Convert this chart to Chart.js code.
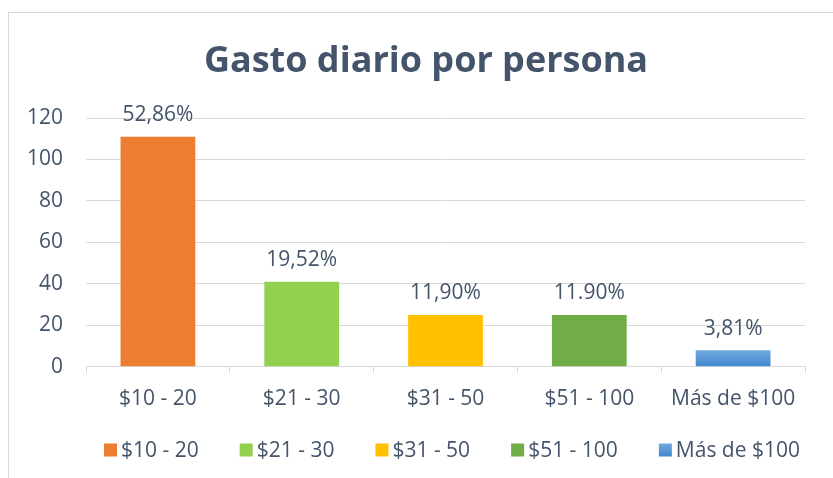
<!DOCTYPE html>
<html>
<head>
<meta charset="utf-8">
<script src="https://cdn.jsdelivr.net/npm/chart.js@4"></script>
<style>
  body { margin: 0; background: #fff; }
  #frame { position: absolute; left: 8px; top: 12px; width: 840px; height: 480px; border: 1px solid #d9d9d9; }
  #wrap { position: absolute; left: 0; top: 0; width: 833px; height: 478px; }
</style>
</head>
<body>
<div id="frame"></div>
<div id="wrap"><canvas id="chart"></canvas></div>
<script>
// categories and values
const chartTitle = 'Gasto diario por persona';
const categories = ['$10 - 20', '$21 - 30', '$31 - 50', '$51 - 100', 'Más de $100'];
const counts = [111, 41, 25, 25, 8];
const percentLabels = ['52,86%', '19,52%', '11,90%', '11.90%', '3,81%'];
const yTicks = [0, 20, 40, 60, 80, 100, 120];

const barColors = ['#ed7d31', '#92d050', '#ffc000', '#70ad47', '#5b9bd5'];
const textColor = '#44546a';
const fontFamily = '"Open Sans", "Noto Sans", sans-serif';
const labelFont = '21px ' + fontFamily;

// the blue bar (and its legend box) has a light vertical gradient
function blueGradient(ctx, top, bottom) {
    const g = ctx.createLinearGradient(0, top, 0, bottom);
    g.addColorStop(0, '#72a9e0');
    g.addColorStop(1, '#3f86cc');
    return g;
}

function barFill(c) {
    const i = c.dataIndex;
    const chart = c.chart;
    if (i !== 4 || !chart.chartArea || !chart.scales.y) return barColors[i];
    const top = chart.scales.y.getPixelForValue(counts[i]);
    const bottom = chart.scales.y.getPixelForValue(0);
    if (!isFinite(top) || !isFinite(bottom) || top === bottom) return barColors[i];
    return blueGradient(chart.ctx, top, bottom);
}

// percentage text above each bar
const percentPlugin = {
    id: 'percentPlugin',
    afterDatasetsDraw(chart) {
        const ctx = chart.ctx;
        const meta = chart.getDatasetMeta(0);
        ctx.save();
        ctx.fillStyle = textColor;
        ctx.font = labelFont;
        ctx.textAlign = 'center';
        ctx.textBaseline = 'bottom';
        meta.data.forEach((bar, i) => {
            ctx.fillText(percentLabels[i], bar.x, bar.y - 11);
        });
        ctx.restore();
    }
};

// title and legend drawn by hand so their placement matches the original
const titleLegendPlugin = {
    id: 'titleLegendPlugin',
    afterDraw(chart) {
        const ctx = chart.ctx;
        ctx.save();
        ctx.fillStyle = textColor;
        ctx.font = 'bold 36px ' + fontFamily;
        ctx.textAlign = 'center';
        ctx.textBaseline = 'middle';
        ctx.fillText(chartTitle, 426, 62);

        const box = 13, gap = 4, itemGap = 41;
        const y = 450;
        ctx.font = labelFont;
        const widths = categories.map(c => ctx.measureText(c).width);
        const total = widths.reduce((a, w) => a + box + gap + w, 0) + itemGap * (categories.length - 1);
        let x = 452 - total / 2;
        ctx.textAlign = 'left';
        categories.forEach((cat, i) => {
            ctx.fillStyle = i === 4 ? blueGradient(ctx, y - box / 2, y + box / 2) : barColors[i];
            ctx.fillRect(x, y - box / 2, box, box);
            ctx.fillStyle = textColor;
            ctx.fillText(cat, x + box + gap, y + 1);
            x += box + gap + widths[i] + itemGap;
        });
        ctx.restore();
    }
};

const ctx = document.getElementById('chart').getContext('2d');
new Chart(ctx, {
    type: 'bar',
    data: {
        labels: categories,
        datasets: [{
            data: counts,
            backgroundColor: barFill,
            categoryPercentage: 0.52,
            barPercentage: 1,
        }],
    },
    options: {
        responsive: true,
        maintainAspectRatio: false,
        animation: false,
        layout: { padding: { left: 4, right: 28, top: 118, bottom: 52 } },
        plugins: {
            title: { display: false },
            legend: { display: false },
            tooltip: { enabled: false },
        },
        scales: {
            x: {
                grid: { drawOnChartArea: false, color: '#d9d9d9', tickLength: 6 },
                border: { color: '#d9d9d9' },
                ticks: { color: textColor, font: { family: fontFamily, size: 21 }, padding: 14 },
            },
            y: {
                min: 0,
                max: 120,
                afterBuildTicks: (axis) => { axis.ticks = yTicks.map(v => ({ value: v })); },
                grid: { color: '#d9d9d9', drawTicks: false },
                border: { display: false },
                ticks: { color: textColor, font: { family: fontFamily, size: 21 }, padding: 23 },
            },
        },
    },
    plugins: [percentPlugin, titleLegendPlugin],
});
</script>
</body>
</html>
